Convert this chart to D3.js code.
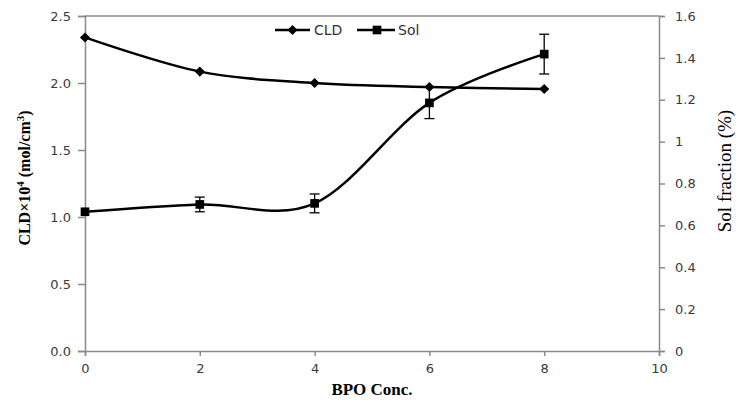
<!DOCTYPE html>
<html>
<head>
<meta charset="utf-8">
<script src="https://cdn.jsdelivr.net/npm/d3@7"></script>
<style>
  body { margin: 0; background: #fff; }
  svg { display: block; }
  .tick text { font-family: "DejaVu Sans", Verdana, sans-serif; font-size: 13px; fill: #3a3a3a; }
</style>
</head>
<body>
<div id="chart"></div>
<script>
// BPO concentration (x)
var bpo = [0, 2, 4, 6, 8];
// crosslink density, left axis (x10^4 mol/cm3)
var cld = [2.34, 2.085, 2.0, 1.97, 1.955];
// sol fraction, right axis (%)
var sol = [0.665, 0.70, 0.705, 1.185, 1.418];
var solErr = [0, 0.035, 0.045, 0.075, 0.095];
var leftTicks = [0, 0.5, 1.0, 1.5, 2.0, 2.5];
var rightTicks = [0, 0.2, 0.4, 0.6, 0.8, 1, 1.2, 1.4, 1.6];
var xTicks = [0, 2, 4, 6, 8, 10];

var W = 736, H = 403;
var m = {top: 16, right: 77, bottom: 52, left: 85};
var iw = W - m.left - m.right, ih = H - m.top - m.bottom;

var svg = d3.select('#chart').append('svg').attr('width', W).attr('height', H);
var g = svg.append('g').attr('transform', 'translate(' + m.left + ',' + m.top + ')');

var x = d3.scaleLinear().domain([0, 10]).range([0, iw]);
var yL = d3.scaleLinear().domain([0, 2.5]).range([ih, 0]);
var yR = d3.scaleLinear().domain([0, 1.6]).range([ih, 0]);

// axes
var axisColor = '#8a8a8a';
var xa = g.append('g').attr('transform', 'translate(0,' + ih + ')')
  .call(d3.axisBottom(x).tickValues(xTicks).tickFormat(d3.format('d')).tickSize(5).tickPadding(8));
var la = g.append('g')
  .call(d3.axisLeft(yL).tickValues(leftTicks).tickFormat(d3.format('.1f')).tickSize(7).tickPadding(7));
var ra = g.append('g').attr('transform', 'translate(' + iw + ',0)')
  .call(d3.axisRight(yR).tickValues(rightTicks).tickFormat(function(d){ return d3.format('')(+d.toFixed(1)); }).tickSize(6).tickPadding(10));
[xa, la, ra].forEach(function(a){
  a.selectAll('path, line').attr('stroke', axisColor).attr('stroke-width', 1.5);
});
// top frame line
g.append('line').attr('x1', 0).attr('x2', iw).attr('y1', 0).attr('y2', 0)
  .attr('stroke', '#555').attr('stroke-width', 1.2);

// curves (excel-like smoothing)
var lineL = d3.line().x(function(d, i){ return x(bpo[i]); }).y(function(d){ return yL(d); })
  .curve(d3.curveCatmullRom.alpha(0));
var lineR = d3.line().x(function(d, i){ return x(bpo[i]); }).y(function(d){ return yR(d); })
  .curve(d3.curveCatmullRom.alpha(0));

g.append('path').datum(cld).attr('d', lineL).attr('fill', 'none').attr('stroke', '#000').attr('stroke-width', 2.5);
g.append('path').datum(sol).attr('d', lineR).attr('fill', 'none').attr('stroke', '#000').attr('stroke-width', 2.5);

// error bars on sol
var errData = sol.map(function(v, i){ return {x: bpo[i], v: v, e: solErr[i]}; })
  .filter(function(d){ return d.e > 0; });
var eb = g.selectAll('.err').data(errData).enter().append('g').attr('class', 'err');
eb.append('line')
  .attr('x1', function(d){ return x(d.x); }).attr('x2', function(d){ return x(d.x); })
  .attr('y1', function(d){ return yR(d.v - d.e); }).attr('y2', function(d){ return yR(d.v + d.e); })
  .attr('stroke', '#000').attr('stroke-width', 1.3);
[-1, 1].forEach(function(s){
  eb.append('line')
    .attr('x1', function(d){ return x(d.x) - 5; }).attr('x2', function(d){ return x(d.x) + 5; })
    .attr('y1', function(d){ return yR(d.v + s * d.e); }).attr('y2', function(d){ return yR(d.v + s * d.e); })
    .attr('stroke', '#000').attr('stroke-width', 1.3);
});

// markers
var diamond = d3.symbol().type(d3.symbolDiamond2).size(65);
var square = d3.symbol().type(d3.symbolSquare).size(75);
g.selectAll('.cldm').data(cld).enter().append('path').attr('class', 'cldm')
  .attr('d', diamond).attr('fill', '#000')
  .attr('transform', function(d, i){ return 'translate(' + x(bpo[i]) + ',' + yL(d) + ')'; });
g.selectAll('.solm').data(sol).enter().append('path').attr('class', 'solm')
  .attr('d', square).attr('fill', '#000')
  .attr('transform', function(d, i){ return 'translate(' + x(bpo[i]) + ',' + yR(d) + ')'; });

// legend
var legFont = '"DejaVu Sans", Verdana, sans-serif';
var leg = svg.append('g').attr('transform', 'translate(275,30)');
leg.append('line').attr('x1', 0).attr('x2', 35).attr('stroke', '#000').attr('stroke-width', 2.5);
leg.append('path').attr('d', diamond).attr('transform', 'translate(17.5,0)');
leg.append('text').attr('x', 39).attr('y', 5).text('CLD')
  .style('font-family', legFont).style('font-size', '14px').style('fill', '#333');
leg.append('line').attr('x1', 82).attr('x2', 120).attr('stroke', '#000').attr('stroke-width', 2.5);
leg.append('path').attr('d', square).attr('transform', 'translate(102,0)');
leg.append('text').attr('x', 123).attr('y', 5).text('Sol')
  .style('font-family', legFont).style('font-size', '14px').style('fill', '#333');

// axis titles
var serif = '"Liberation Serif", "Times New Roman", serif';
var lt = svg.append('text').attr('transform', 'translate(30,178) rotate(-90)')
  .attr('text-anchor', 'middle').style('font-family', serif).style('font-size', '16px').style('font-weight', 'bold');
lt.append('tspan').text('CLD×10');
lt.append('tspan').attr('dy', -6).style('font-size', '11px').text('4');
lt.append('tspan').attr('dy', 6).text(' (mol/cm');
lt.append('tspan').attr('dy', -6).style('font-size', '11px').text('3');
lt.append('tspan').attr('dy', 6).text(')');

svg.append('text').attr('transform', 'translate(731,171) rotate(-90)')
  .attr('text-anchor', 'middle').style('font-family', serif).style('font-size', '19px')
  .text('Sol fraction (%)');

svg.append('text').attr('x', m.left + x(5)).attr('y', 395)
  .attr('text-anchor', 'middle').style('font-family', serif).style('font-size', '17px').style('font-weight', 'bold')
  .text('BPO Conc.');
</script>
</body>
</html>
